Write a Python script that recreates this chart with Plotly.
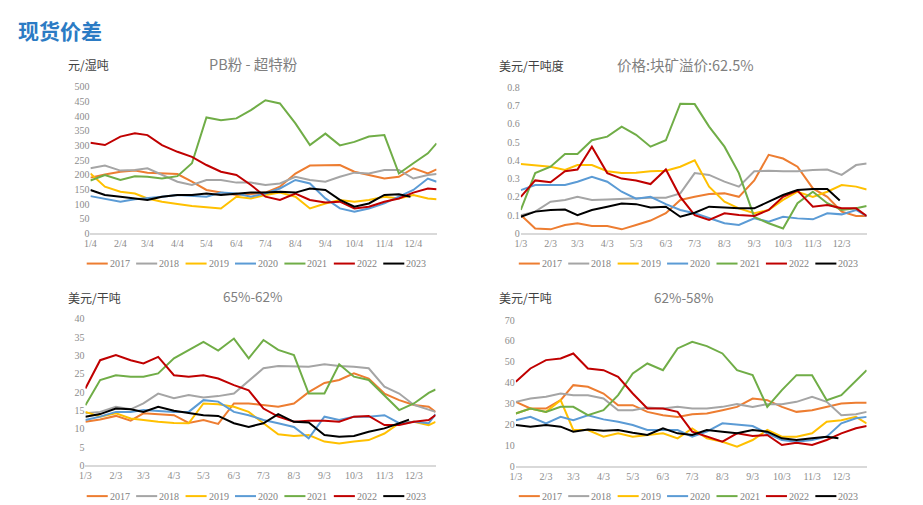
import plotly.graph_objects as go

# sample dates (month-day), about every half month
dates_a = ["01-04", "01-19", "02-04", "02-19", "03-04", "03-19", "04-04", "04-19",
           "05-04", "05-19", "06-04", "06-19", "07-04", "07-19", "08-04", "08-19",
           "09-04", "09-19", "10-04", "10-19", "11-04", "11-19", "12-04", "12-19", "12-28"]
dates_b = ["01-03", "01-18", "02-03", "02-18", "03-03", "03-18", "04-03", "04-18",
           "05-03", "05-18", "06-03", "06-18", "07-03", "07-18", "08-03", "08-18",
           "09-03", "09-18", "10-03", "10-18", "11-03", "11-18", "12-03", "12-18", "12-29"]
dates_c = dates_b[:-1] + ["12-25"]

years = ["2017", "2018", "2019", "2020", "2021", "2022", "2023"]
colors = ["#ED7D31", "#A5A5A5", "#FFC000", "#5B9BD5", "#70AD47", "#C00000", "#000000"]

# PB粉 - 超特粉 (元/湿吨)
pb_2017 = [190, 201, 210, 214, 207, 204, 202, 176, 148, 139, 131, 134, 139, 159, 204, 231, 233, 233, 210, 199, 187, 193, 222, 204, 218]
pb_2018 = [222, 231, 214, 216, 222, 199, 176, 165, 182, 182, 173, 173, 165, 170, 193, 182, 176, 193, 207, 204, 216, 216, 187, 199, 202]
pb_2019 = [204, 159, 142, 136, 119, 108, 100, 93, 89, 85, 125, 119, 131, 139, 125, 85, 102, 114, 108, 114, 125, 119, 131, 119, 116]
pb_2020 = [127, 119, 108, 116, 119, 125, 131, 127, 125, 139, 136, 125, 136, 153, 182, 170, 119, 85, 74, 85, 102, 125, 148, 187, 176]
pb_2021 = [180, 199, 182, 195, 193, 187, 195, 239, 395, 386, 392, 420, 454, 443, 375, 301, 340, 300, 312, 330, 335, 204, 239, 273, 307]
pb_2022 = [309, 301, 330, 341, 335, 301, 278, 261, 233, 210, 199, 165, 125, 114, 136, 114, 105, 108, 85, 91, 108, 119, 139, 153, 150]
pb_2023 = [148, 131, 125, 119, 114, 125, 131, 131, 136, 131, 136, 139, 139, 142, 139, 153, 148, 114, 91, 102, 131, 133, 125]

# 价格:块矿溢价:62.5% (美元/干吨度)
lp_2017 = [0.10, 0.027, 0.022, 0.046, 0.055, 0.04, 0.04, 0.022, 0.046, 0.07, 0.11, 0.183, 0.20, 0.215, 0.219, 0.20, 0.29, 0.43, 0.41, 0.365, 0.246, 0.20, 0.119, 0.095, 0.095]
lp_2018 = [0.10, 0.119, 0.173, 0.183, 0.20, 0.183, 0.186, 0.19, 0.19, 0.195, 0.195, 0.219, 0.33, 0.32, 0.283, 0.256, 0.34, 0.343, 0.34, 0.34, 0.347, 0.35, 0.32, 0.374, 0.383]
lp_2019 = [0.38, 0.374, 0.365, 0.347, 0.374, 0.374, 0.34, 0.33, 0.332, 0.34, 0.343, 0.365, 0.40, 0.256, 0.173, 0.137, 0.11, 0.128, 0.183, 0.228, 0.20, 0.228, 0.265, 0.256, 0.24]
lp_2020 = [0.237, 0.265, 0.265, 0.265, 0.283, 0.31, 0.283, 0.228, 0.19, 0.20, 0.16, 0.128, 0.11, 0.082, 0.055, 0.046, 0.082, 0.064, 0.091, 0.082, 0.077, 0.11, 0.104, 0.128, 0.095]
lp_2021 = [0.128, 0.33, 0.365, 0.435, 0.435, 0.51, 0.53, 0.585, 0.54, 0.475, 0.51, 0.71, 0.708, 0.585, 0.475, 0.33, 0.09, 0.055, 0.027, 0.165, 0.228, 0.165, 0.128, 0.137, 0.15]
lp_2022 = [0.20, 0.29, 0.28, 0.34, 0.35, 0.475, 0.33, 0.30, 0.29, 0.27, 0.35, 0.20, 0.10, 0.073, 0.11, 0.10, 0.095, 0.128, 0.20, 0.234, 0.146, 0.155, 0.137, 0.137, 0.095]
lp_2023 = [0.091, 0.119, 0.128, 0.13, 0.10, 0.128, 0.146, 0.164, 0.16, 0.142, 0.146, 0.091, 0.113, 0.146, 0.142, 0.137, 0.137, 0.173, 0.21, 0.237, 0.243, 0.243, 0.18]

# 65%-62% (美元/干吨)
hg_2017 = [11.9, 12.5, 13.5, 12.2, 14.2, 14.0, 13.7, 11.6, 12.4, 11.3, 16.9, 16.9, 16.5, 16.0, 16.9, 20.0, 22.5, 23.3, 25.1, 23.7, 19.6, 17.8, 16.5, 16.0, 14.6]
hg_2018 = [14.2, 14.6, 16.0, 15.3, 16.9, 19.6, 18.3, 19.2, 18.5, 18.9, 19.6, 23.1, 26.5, 27.1, 26.9, 26.9, 27.6, 27.1, 26.9, 26.5, 21.5, 19.6, 16.5, 15.1, 14.6]
hg_2019 = [14.6, 13.3, 14.2, 12.8, 12.4, 11.9, 11.6, 11.5, 16.9, 16.7, 16.0, 14.6, 11.5, 8.5, 8.0, 8.3, 6.5, 6.0, 6.5, 6.9, 8.7, 11.5, 11.9, 11.0, 11.9]
hg_2020 = [12.4, 13.3, 14.6, 14.6, 15.1, 14.8, 14.6, 14.6, 17.8, 17.4, 14.6, 13.7, 12.4, 11.5, 10.5, 7.4, 13.3, 12.4, 13.3, 13.3, 13.7, 11.5, 11.9, 11.5, 14.0]
hg_2021 = [16.4, 23.3, 24.6, 24.2, 24.2, 25.1, 29.2, 31.5, 33.7, 31.3, 34.6, 29.2, 34.2, 31.5, 30.1, 19.6, 19.6, 27.6, 24.2, 23.3, 19.2, 15.1, 16.9, 19.8, 20.7]
hg_2022 = [21.0, 28.7, 30.1, 28.7, 27.8, 29.6, 24.6, 24.2, 24.6, 23.7, 21.9, 20.5, 15.5, 13.3, 11.9, 12.2, 12.2, 11.9, 13.3, 13.5, 11.0, 11.0, 11.9, 12.4, 13.7]
hg_2023 = [13.3, 14.0, 15.5, 15.3, 14.6, 16.0, 14.9, 14.4, 13.7, 13.5, 11.5, 10.5, 11.5, 14.0, 11.9, 11.7, 8.3, 7.8, 8.0, 9.2, 10.1, 11.5, 12.5]

# 62%-58% (美元/干吨)
lg_2017 = [30.8, 27.6, 27.6, 31.6, 38.8, 38.0, 34.8, 29.2, 29.2, 26.0, 24.4, 23.6, 24.9, 25.2, 26.8, 28.4, 32.4, 31.6, 28.4, 26.0, 26.8, 28.4, 30.0, 30.4, 30.4]
lg_2018 = [30.8, 32.4, 33.2, 34.8, 34.0, 34.0, 32.4, 26.8, 26.8, 28.1, 27.6, 28.4, 27.6, 27.6, 28.4, 29.7, 28.4, 29.7, 29.7, 30.8, 33.2, 30.8, 24.4, 24.9, 26.0]
lg_2019 = [25.2, 27.6, 26.0, 31.6, 17.3, 17.3, 14.1, 15.7, 14.1, 14.9, 15.7, 13.3, 18.1, 13.3, 11.7, 9.3, 12.5, 17.3, 14.1, 14.1, 15.7, 21.3, 22.0, 23.6, 20.5]
lg_2020 = [22.0, 23.6, 20.5, 23.6, 22.0, 24.4, 22.4, 21.3, 19.7, 17.3, 17.3, 17.3, 14.1, 16.5, 20.5, 19.7, 19.2, 15.7, 12.5, 11.7, 12.5, 14.1, 20.5, 22.9, 23.6]
lg_2021 = [25.2, 27.6, 26.0, 28.4, 28.4, 24.4, 26.8, 34.0, 44.4, 49.2, 46.0, 56.4, 59.6, 57.5, 54.0, 46.0, 43.6, 28.4, 36.4, 43.6, 43.6, 31.6, 34.0, 41.2, 46.0]
lg_2022 = [40.4, 46.8, 50.8, 51.6, 54.0, 46.8, 46.0, 42.8, 34.8, 27.6, 27.6, 26.0, 16.5, 14.1, 11.7, 15.7, 14.4, 14.9, 10.1, 11.2, 10.1, 12.5, 15.7, 18.1, 19.2]
lg_2023 = [19.7, 18.9, 19.7, 18.9, 16.5, 17.6, 16.9, 17.3, 16.0, 14.9, 18.1, 15.7, 14.9, 17.3, 16.5, 15.7, 17.3, 16.5, 13.3, 12.5, 13.3, 14.1, 13.3]

ends_2023 = ["12-01", "12-01", "11-28", "11-30"]

panels = [
    (dates_a, [pb_2017, pb_2018, pb_2019, pb_2020, pb_2021, pb_2022, pb_2023]),
    (dates_b, [lp_2017, lp_2018, lp_2019, lp_2020, lp_2021, lp_2022, lp_2023]),
    (dates_c, [hg_2017, hg_2018, hg_2019, hg_2020, hg_2021, hg_2022, hg_2023]),
    (dates_b, [lg_2017, lg_2018, lg_2019, lg_2020, lg_2021, lg_2022, lg_2023]),
]

W, H = 923, 505
# the photographed page shows the figure a little shrunk and shifted,
# so map reference pixel positions into figure paper coordinates
OX, SX, OY, SY = 6.5, 0.991, 5.0, 0.978


def px(x):
    return (x - OX) / SX / W


def py(y):
    return 1 - (y - OY) / SY / H


# plot areas in reference pixels: left, right, top(max value), bottom(zero)
boxes = [(90.7, 436, 86.7, 233.3), (520, 865, 87.3, 233.3),
         (85.7, 435, 318.7, 465.3), (515, 865, 320, 466)]
yranges = [(0, 500, 50), (0, 0.8, 0.1), (0, 40, 5), (0, 70, 10)]
tick_day = ["04", "03", "03", "03"]
# legend rows: left start, centre line y (reference pixels)
legend_pos = [(87, 263.5), (518, 263.5), (87, 496), (518, 496)]
legend_step = 49.3

fig = go.Figure()
tick_font = dict(family="Liberation Serif", size=10, color="#8c8c8c")

for p, (dates, series) in enumerate(panels):
    n = "" if p == 0 else str(p + 1)
    for i, vals in enumerate(series):
        xs = ["2001-" + d for d in dates]
        if years[i] == "2023":
            xs = xs[:len(vals) - 1] + ["2001-" + ends_2023[p]]
        fig.add_trace(go.Scatter(
            x=xs, y=vals, mode="lines", name=years[i],
            line=dict(color=colors[i], width=2),
            xaxis="x" + n, yaxis="y" + n, showlegend=False,
        ))

    l, r, t, b = boxes[p]
    y0, y1, dy = yranges[p]
    tv = [f"2001-{m:02d}-{tick_day[p]}" for m in range(1, 13)]
    tt = [f"{m}/{int(tick_day[p])}" for m in range(1, 13)]
    fig.update_layout(**{
        "xaxis" + n: dict(domain=[px(l), px(r)], anchor="y" + n, type="date",
                          range=["2001-" + dates[0], "2001-" + dates[-1]],
                          tickvals=tv, ticktext=tt,
                          showgrid=False, zeroline=False, showline=True,
                          linecolor="#d9d9d9", linewidth=2, ticks="",
                          tickfont=tick_font),
        "yaxis" + n: dict(domain=[py(b), py(t)], anchor="x" + n,
                          range=[y0, y1], dtick=dy, showgrid=False, zeroline=False,
                          showline=False, ticks="", tickfont=tick_font),
    })

    # legend row drawn under each panel
    lx, ly = legend_pos[p]
    for i, yr in enumerate(years):
        x0 = lx + i * legend_step
        fig.add_shape(type="line", xref="paper", yref="paper",
                      x0=px(x0), x1=px(x0 + 21), y0=py(ly), y1=py(ly),
                      line=dict(color=colors[i], width=2))
        fig.add_annotation(text=yr, x=px(x0 + 21), y=py(ly), xref="paper",
                           yref="paper", xanchor="left", yanchor="middle",
                           showarrow=False,
                           font=dict(family="Liberation Serif", size=10, color="#7f7f7f"))

annos = [
    dict(text="<b>现货价差</b>", x=16, y=30, size=21, color="#2b7bc4", anchor="left"),
    dict(text="元/湿吨", x=66, y=64, size=12, color="#404040", anchor="left"),
    dict(text="PB粉 - 超特粉", x=253, y=63, size=14.5, color="#7f7f7f", anchor="center"),
    dict(text="美元/干吨度", x=496, y=65, size=12, color="#404040", anchor="left"),
    dict(text="价格:块矿溢价:62.5%", x=684, y=64, size=14.5, color="#7f7f7f", anchor="center"),
    dict(text="美元/干吨", x=66, y=297, size=12, color="#404040", anchor="left"),
    dict(text="65%-62%", x=253, y=296, size=13.5, color="#7f7f7f", anchor="center"),
    dict(text="美元/干吨", x=496, y=297, size=12, color="#404040", anchor="left"),
    dict(text="62%-58%", x=683, y=297, size=13.5, color="#7f7f7f", anchor="center"),
]
for a in annos:
    fig.add_annotation(text=a["text"], x=px(a["x"]), y=py(a["y"]), xref="paper",
                       yref="paper", xanchor=a["anchor"], yanchor="middle",
                       showarrow=False,
                       font=dict(family="Noto Sans CJK SC", size=a["size"], color=a["color"]))

fig.update_layout(
    width=W, height=H, margin=dict(l=0, r=0, t=0, b=0),
    paper_bgcolor="white", plot_bgcolor="white",
    showlegend=False,
)

fig.write_html("out.html", config={"displayModeBar": False},
               post_script="document.body.style.margin='0';"
                           "document.documentElement.style.overflow='hidden';")
